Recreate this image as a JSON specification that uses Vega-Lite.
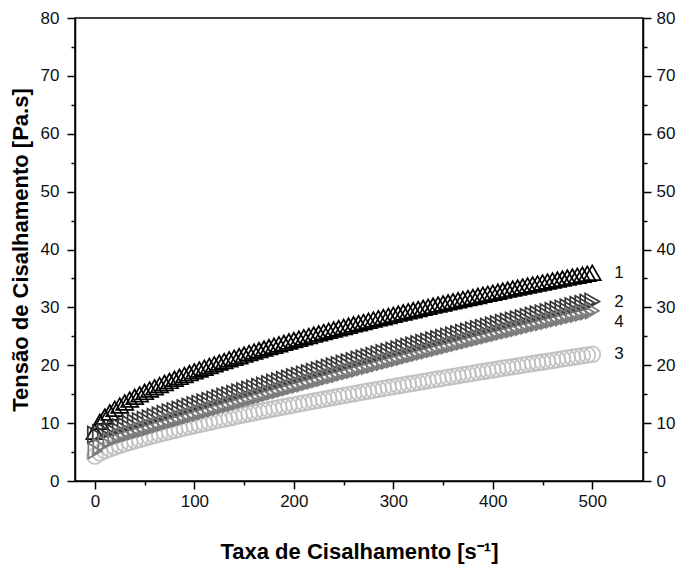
{
  "$schema": "https://vega.github.io/schema/vega-lite/v6.json",
  "width": 568,
  "height": 463,
  "autosize": "none",
  "padding": {"left": 75, "top": 18, "right": 39, "bottom": 85},
  "background": "white",
  "config": {
    "view": {"stroke": "black", "strokeWidth": 1.5},
    "font": "Liberation Sans",
    "axis": {
      "grid": false,
      "domainColor": "black",
      "domainWidth": 1.5,
      "tickColor": "black",
      "tickWidth": 1.5,
      "labelFont": "Liberation Sans",
      "labelFontSize": 17,
      "labelColor": "#111111",
      "titleFont": "Liberation Sans",
      "titleFontSize": 22,
      "titleFontWeight": "bold",
      "titleColor": "black"
    }
  },
  "data": {
    "values": [
      {"x": 0, "1": 8.50, "2": 8.00, "3": 4.30, "4": 5.20},
      {"x": 5, "1": 10.23, "2": 8.26, "3": 4.86, "4": 5.96},
      {"x": 10, "1": 11.13, "2": 8.52, "3": 5.24, "4": 6.52},
      {"x": 15, "1": 11.85, "2": 8.78, "3": 5.57, "4": 6.98},
      {"x": 20, "1": 12.48, "2": 9.04, "3": 5.87, "4": 7.34},
      {"x": 25, "1": 13.05, "2": 9.29, "3": 6.16, "4": 7.69},
      {"x": 30, "1": 13.58, "2": 9.55, "3": 6.43, "4": 7.95},
      {"x": 35, "1": 14.07, "2": 9.81, "3": 6.70, "4": 8.21},
      {"x": 40, "1": 14.54, "2": 10.06, "3": 6.95, "4": 8.46},
      {"x": 45, "1": 14.98, "2": 10.32, "3": 7.19, "4": 8.72},
      {"x": 50, "1": 15.40, "2": 10.57, "3": 7.43, "4": 8.97},
      {"x": 55, "1": 15.81, "2": 10.82, "3": 7.66, "4": 9.22},
      {"x": 60, "1": 16.20, "2": 11.08, "3": 7.89, "4": 9.48},
      {"x": 65, "1": 16.58, "2": 11.33, "3": 8.11, "4": 9.73},
      {"x": 70, "1": 16.95, "2": 11.58, "3": 8.33, "4": 9.98},
      {"x": 75, "1": 17.30, "2": 11.83, "3": 8.54, "4": 10.23},
      {"x": 80, "1": 17.65, "2": 12.08, "3": 8.75, "4": 10.48},
      {"x": 85, "1": 17.99, "2": 12.33, "3": 8.96, "4": 10.73},
      {"x": 90, "1": 18.32, "2": 12.58, "3": 9.17, "4": 10.98},
      {"x": 95, "1": 18.64, "2": 12.83, "3": 9.37, "4": 11.23},
      {"x": 100, "1": 18.96, "2": 13.08, "3": 9.56, "4": 11.48},
      {"x": 105, "1": 19.27, "2": 13.33, "3": 9.76, "4": 11.73},
      {"x": 110, "1": 19.57, "2": 13.57, "3": 9.95, "4": 11.97},
      {"x": 115, "1": 19.88, "2": 13.82, "3": 10.15, "4": 12.22},
      {"x": 120, "1": 20.17, "2": 14.07, "3": 10.34, "4": 12.47},
      {"x": 125, "1": 20.46, "2": 14.31, "3": 10.52, "4": 12.71},
      {"x": 130, "1": 20.74, "2": 14.56, "3": 10.71, "4": 12.96},
      {"x": 135, "1": 21.03, "2": 14.80, "3": 10.89, "4": 13.20},
      {"x": 140, "1": 21.30, "2": 15.04, "3": 11.08, "4": 13.44},
      {"x": 145, "1": 21.57, "2": 15.29, "3": 11.26, "4": 13.69},
      {"x": 150, "1": 21.84, "2": 15.53, "3": 11.44, "4": 13.93},
      {"x": 155, "1": 22.11, "2": 15.77, "3": 11.61, "4": 14.17},
      {"x": 160, "1": 22.37, "2": 16.01, "3": 11.79, "4": 14.41},
      {"x": 165, "1": 22.62, "2": 16.25, "3": 11.96, "4": 14.65},
      {"x": 170, "1": 22.88, "2": 16.49, "3": 12.14, "4": 14.89},
      {"x": 175, "1": 23.13, "2": 16.73, "3": 12.31, "4": 15.13},
      {"x": 180, "1": 23.38, "2": 16.97, "3": 12.48, "4": 15.37},
      {"x": 185, "1": 23.63, "2": 17.21, "3": 12.65, "4": 15.61},
      {"x": 190, "1": 23.87, "2": 17.45, "3": 12.82, "4": 15.85},
      {"x": 195, "1": 24.12, "2": 17.68, "3": 12.99, "4": 16.08},
      {"x": 200, "1": 24.35, "2": 17.92, "3": 13.15, "4": 16.32},
      {"x": 205, "1": 24.59, "2": 18.16, "3": 13.32, "4": 16.56},
      {"x": 210, "1": 24.83, "2": 18.39, "3": 13.48, "4": 16.79},
      {"x": 215, "1": 25.06, "2": 18.63, "3": 13.65, "4": 17.03},
      {"x": 220, "1": 25.29, "2": 18.86, "3": 13.81, "4": 17.26},
      {"x": 225, "1": 25.51, "2": 19.09, "3": 13.97, "4": 17.49},
      {"x": 230, "1": 25.74, "2": 19.33, "3": 14.13, "4": 17.73},
      {"x": 235, "1": 25.96, "2": 19.56, "3": 14.29, "4": 17.96},
      {"x": 240, "1": 26.19, "2": 19.79, "3": 14.45, "4": 18.19},
      {"x": 245, "1": 26.41, "2": 20.02, "3": 14.61, "4": 18.42},
      {"x": 250, "1": 26.62, "2": 20.25, "3": 14.77, "4": 18.65},
      {"x": 255, "1": 26.84, "2": 20.48, "3": 14.92, "4": 18.88},
      {"x": 260, "1": 27.06, "2": 20.71, "3": 15.08, "4": 19.11},
      {"x": 265, "1": 27.27, "2": 20.94, "3": 15.23, "4": 19.34},
      {"x": 270, "1": 27.48, "2": 21.17, "3": 15.39, "4": 19.57},
      {"x": 275, "1": 27.69, "2": 21.39, "3": 15.54, "4": 19.79},
      {"x": 280, "1": 27.90, "2": 21.62, "3": 15.70, "4": 20.02},
      {"x": 285, "1": 28.11, "2": 21.85, "3": 15.85, "4": 20.25},
      {"x": 290, "1": 28.31, "2": 22.07, "3": 16.00, "4": 20.47},
      {"x": 295, "1": 28.52, "2": 22.30, "3": 16.15, "4": 20.70},
      {"x": 300, "1": 28.72, "2": 22.52, "3": 16.30, "4": 20.92},
      {"x": 305, "1": 28.92, "2": 22.74, "3": 16.45, "4": 21.14},
      {"x": 310, "1": 29.13, "2": 22.97, "3": 16.60, "4": 21.37},
      {"x": 315, "1": 29.32, "2": 23.19, "3": 16.75, "4": 21.59},
      {"x": 320, "1": 29.52, "2": 23.41, "3": 16.90, "4": 21.81},
      {"x": 325, "1": 29.72, "2": 23.63, "3": 17.04, "4": 22.03},
      {"x": 330, "1": 29.91, "2": 23.85, "3": 17.19, "4": 22.25},
      {"x": 335, "1": 30.11, "2": 24.07, "3": 17.34, "4": 22.47},
      {"x": 340, "1": 30.30, "2": 24.29, "3": 17.48, "4": 22.69},
      {"x": 345, "1": 30.49, "2": 24.51, "3": 17.63, "4": 22.91},
      {"x": 350, "1": 30.68, "2": 24.73, "3": 17.77, "4": 23.13},
      {"x": 355, "1": 30.87, "2": 24.95, "3": 17.92, "4": 23.35},
      {"x": 360, "1": 31.06, "2": 25.16, "3": 18.06, "4": 23.56},
      {"x": 365, "1": 31.24, "2": 25.38, "3": 18.20, "4": 23.78},
      {"x": 370, "1": 31.44, "2": 25.60, "3": 18.34, "4": 24.00},
      {"x": 375, "1": 31.62, "2": 25.81, "3": 18.49, "4": 24.21},
      {"x": 380, "1": 31.80, "2": 26.03, "3": 18.63, "4": 24.43},
      {"x": 385, "1": 31.98, "2": 26.24, "3": 18.77, "4": 24.64},
      {"x": 390, "1": 32.17, "2": 26.45, "3": 18.91, "4": 24.85},
      {"x": 395, "1": 32.35, "2": 26.67, "3": 19.05, "4": 25.07},
      {"x": 400, "1": 32.53, "2": 26.88, "3": 19.19, "4": 25.28},
      {"x": 405, "1": 32.71, "2": 27.09, "3": 19.33, "4": 25.49},
      {"x": 410, "1": 32.89, "2": 27.30, "3": 19.47, "4": 25.70},
      {"x": 415, "1": 33.07, "2": 27.51, "3": 19.61, "4": 25.91},
      {"x": 420, "1": 33.24, "2": 27.72, "3": 19.75, "4": 26.12},
      {"x": 425, "1": 33.42, "2": 27.93, "3": 19.88, "4": 26.33},
      {"x": 430, "1": 33.60, "2": 28.14, "3": 20.02, "4": 26.54},
      {"x": 435, "1": 33.77, "2": 28.35, "3": 20.16, "4": 26.75},
      {"x": 440, "1": 33.94, "2": 28.56, "3": 20.29, "4": 26.96},
      {"x": 445, "1": 34.12, "2": 28.76, "3": 20.43, "4": 27.16},
      {"x": 450, "1": 34.29, "2": 28.97, "3": 20.57, "4": 27.37},
      {"x": 455, "1": 34.46, "2": 29.18, "3": 20.70, "4": 27.58},
      {"x": 460, "1": 34.64, "2": 29.38, "3": 20.84, "4": 27.78},
      {"x": 465, "1": 34.80, "2": 29.59, "3": 20.97, "4": 27.99},
      {"x": 470, "1": 34.97, "2": 29.79, "3": 21.11, "4": 28.19},
      {"x": 475, "1": 35.14, "2": 29.99, "3": 21.24, "4": 28.39},
      {"x": 480, "1": 35.31, "2": 30.20, "3": 21.37, "4": 28.60},
      {"x": 485, "1": 35.47, "2": 30.40, "3": 21.50, "4": 28.80},
      {"x": 490, "1": 35.65, "2": 30.60, "3": 21.64, "4": 29.00},
      {"x": 495, "1": 35.81, "2": 30.80, "3": 21.77, "4": 29.20},
      {"x": 500, "1": 35.98, "2": 31.00, "3": 21.90, "4": 29.40}
    ]
  },
  "transform": [{"fold": ["1", "2", "3", "4"], "as": ["serie", "v"]}],
  "layer": [
    {
      "mark": {"type": "point", "filled": false, "strokeWidth": 1.7, "opacity": 1},
      "encoding": {
        "x": {
          "field": "x",
          "type": "quantitative",
          "scale": {"domain": [-20, 551], "nice": false, "zero": false},
          "axis": {
            "values": [0, 50, 100, 150, 200, 250, 300, 350, 400, 450, 500],
            "labelExpr": "datum.value % 100 === 0 ? datum.label : ''",
            "tickSize": {"condition": {"test": "datum.value % 100 === 0", "value": 8}, "value": 4},
            "labelPadding": 4,
            "title": "Taxa de Cisalhamento [s⁻¹]",
            "titlePadding": 32
          }
        },
        "y": {
          "field": "v",
          "type": "quantitative",
          "scale": {"domain": [0, 80], "nice": false},
          "axis": {
            "values": [0, 5, 10, 15, 20, 25, 30, 35, 40, 45, 50, 55, 60, 65, 70, 75, 80],
            "labelExpr": "datum.value % 10 === 0 ? datum.label : ''",
            "tickSize": {"condition": {"test": "datum.value % 10 === 0", "value": 8}, "value": 4},
            "labelPadding": 8,
            "title": "Tensão de Cisalhamento [Pa.s]",
            "titlePadding": 8
          }
        },
        "color": {
          "field": "serie",
          "type": "nominal",
          "scale": {"domain": ["1", "2", "3", "4"], "range": ["#000000", "#363636", "#c2c2c2", "#7a7a7a"]},
          "legend": null
        },
        "shape": {
          "field": "serie",
          "type": "nominal",
          "scale": {"domain": ["1", "2", "3", "4"], "range": ["triangle-up", "triangle-right", "circle", "triangle-right"]},
          "legend": null
        },
        "size": {
          "field": "serie",
          "type": "nominal",
          "scale": {"domain": ["1", "2", "3", "4"], "range": [290, 230, 240, 230]},
          "legend": null
        },
        "order": {"field": "serie", "type": "ordinal"}
      }
    },
    {
      "transform": [{"filter": "datum.x === 500 && datum.serie !== '4'"}],
      "mark": {"type": "text", "align": "left", "baseline": "middle", "dx": 22, "fontSize": 17, "font": "Liberation Sans", "color": "#111111"},
      "encoding": {
        "x": {"field": "x", "type": "quantitative", "axis": null},
        "y": {
          "field": "v",
          "type": "quantitative",
          "axis": {
            "orient": "right",
            "values": [0, 5, 10, 15, 20, 25, 30, 35, 40, 45, 50, 55, 60, 65, 70, 75, 80],
            "labelExpr": "datum.value % 10 === 0 ? datum.label : ''",
            "tickSize": {"condition": {"test": "datum.value % 10 === 0", "value": 8}, "value": 4},
            "labelPadding": 5,
            "title": null
          }
        },
        "text": {"field": "serie"}
      }
    },
    {
      "transform": [{"filter": "datum.x === 500 && datum.serie === '4'"}],
      "mark": {"type": "text", "align": "left", "baseline": "middle", "dx": 22, "dy": 11, "fontSize": 17, "font": "Liberation Sans", "color": "#111111"},
      "encoding": {
        "x": {"field": "x", "type": "quantitative", "axis": null},
        "y": {"field": "v", "type": "quantitative", "axis": null},
        "text": {"field": "serie"}
      }
    }
  ],
  "resolve": {"axis": {"x": "independent", "y": "independent"}}
}
